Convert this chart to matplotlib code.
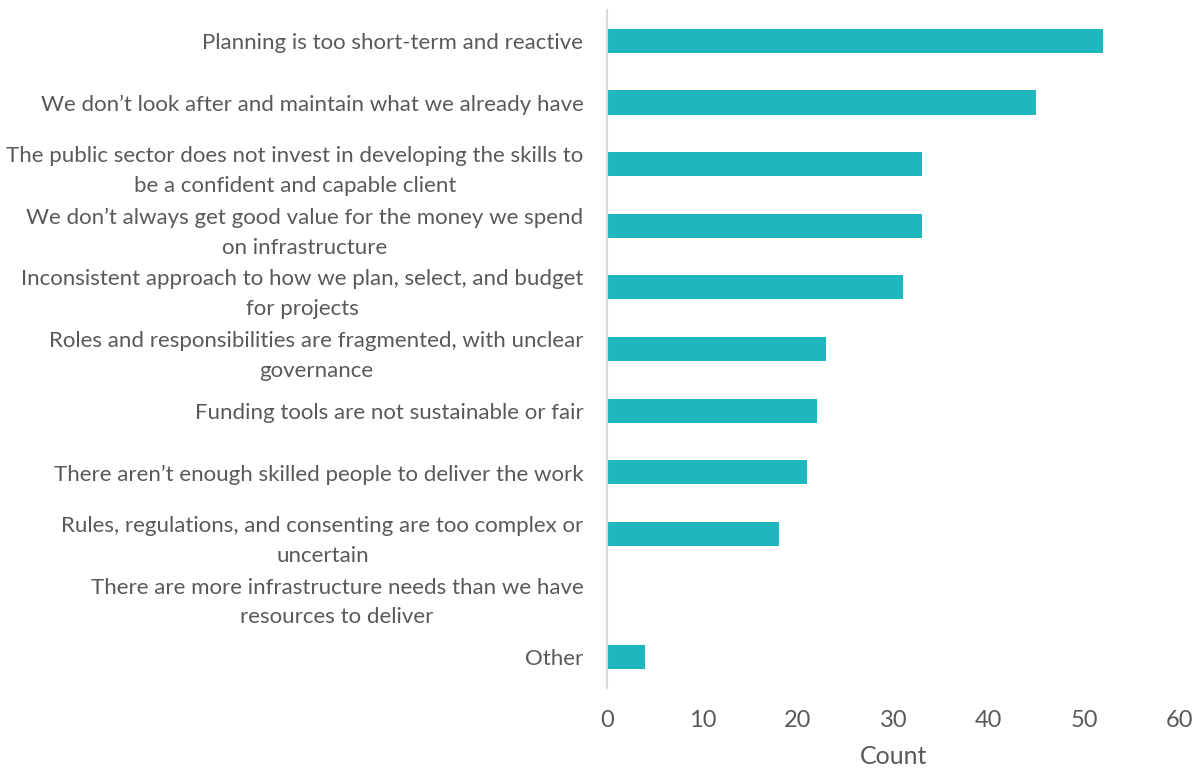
import numpy as np
import matplotlib
matplotlib.use("Agg")
import matplotlib.pyplot as plt

plt.rcParams['font.family'] = ['Lato', 'DejaVu Sans']

categories = [
    "Planning is too short-term and reactive",
    "We don\u2019t look after and maintain what we already have",
    "The public sector does not invest in developing the skills to\nbe a confident and capable client",
    "We don\u2019t always get good value for the money we spend\non infrastructure",
    "Inconsistent approach to how we plan, select, and budget\nfor projects",
    "Roles and responsibilities are fragmented, with unclear\ngovernance",
    "Funding tools are not sustainable or fair",
    "There aren\u2019t enough skilled people to deliver the work",
    "Rules, regulations, and consenting are too complex or\nuncertain",
    "There are more infrastructure needs than we have\nresources to deliver",
    "Other",
]
counts = [52, 45, 33, 33, 31, 23, 22, 21, 18, 0, 4]
x_ticks = [0, 10, 20, 30, 40, 50, 60]

bar_color = "#20B6BE"
text_color = "#595959"

fig = plt.figure(figsize=(11.95, 7.69), dpi=100)
ax = fig.add_axes([0.508, 0.105, 0.479, 0.882])

y = np.arange(len(categories))
ax.barh(y, counts, height=0.39, color=bar_color)

ax.set_ylim(len(categories) - 0.5, -0.5)
ax.set_xlim(0, 60)
ax.set_xticks(x_ticks)
ax.set_yticks(y)
ax.set_yticklabels(categories)
for lbl in ax.get_yticklabels():
    lbl.set_multialignment('center')
    lbl.set_linespacing(1.6)

ax.tick_params(axis='both', length=0, labelsize=16, colors=text_color)
ax.tick_params(axis='x', pad=16, labelsize=17)
ax.tick_params(axis='y', pad=17)
ax.set_xlabel("Count", fontsize=18, color=text_color, labelpad=10)

for side in ["top", "right", "bottom"]:
    ax.spines[side].set_visible(False)
ax.spines["left"].set_color("#D9D9D9")
ax.spines["left"].set_linewidth(1.5)

fig.savefig("out.png", dpi=100)
